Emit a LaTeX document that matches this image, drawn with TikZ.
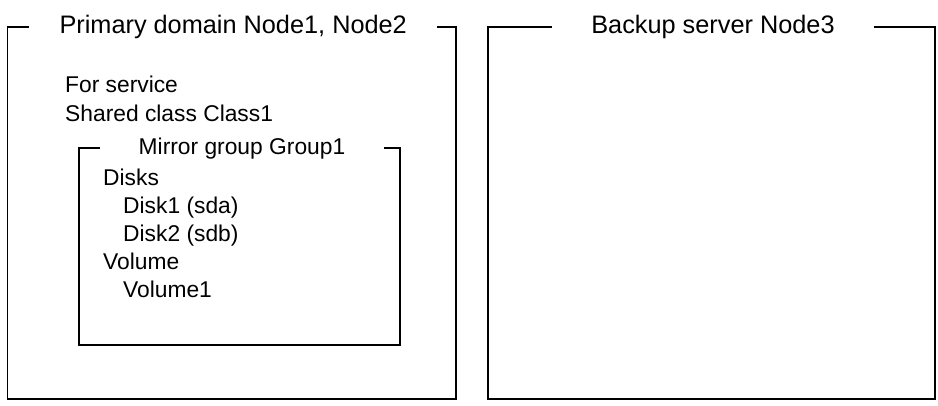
\documentclass[tikz,border=0pt]{standalone}
\usepackage{fontspec}
\setmainfont{Liberation Sans}

\tikzset{
  panel/.style={draw,line width=1.8pt,inner sep=0pt},
  paneltitle/.style={fill=white,inner ysep=0pt,inner xsep=0pt,
    font=\fontsize{25.3pt}{30pt}\selectfont},
  grouptitle/.style={paneltitle,font=\fontsize{22.8pt}{28pt}\selectfont},
  entry/.style={anchor=base west,inner sep=0pt,
    font=\fontsize{22.8pt}{28pt}\selectfont}
}

\begin{document}
\begin{tikzpicture}[x=1pt,y=-1pt]
  \useasboundingbox (0,0) rectangle (938,405);

  \node[panel,minimum width=448.5pt,minimum height=372.3pt] (primary) at (231.75,212.85) {};
  \node[panel,minimum width=446.7pt,minimum height=372.3pt] (backup) at (711.6,212.85) {};
  \node[panel,minimum width=320.7pt,minimum height=196.7pt] (mirror) at (239.65,246.65) {};

  \node[paneltitle,minimum width=407.7pt] (primarytitle) at (233.2,26.7)
    {Primary domain Node1, Node2};
  \node[paneltitle,minimum width=322pt] (backuptitle) at (713,26.7)
    {Backup server Node3};
  \node[grouptitle,minimum width=284.7pt] (mirrortitle) at (242,148.3)
    {Mirror group Group1};

  \node[entry] (service) at (65,92.3) {For service};
  \node[entry] (class) at (65,121) {Shared class Class1};
  \node[entry] (disks) at (103,185) {Disks};
  \node[entry] (disk1) at (123,213) {Disk1 (sda)};
  \node[entry] (disk2) at (123,241) {Disk2 (sdb)};
  \node[entry] (volume) at (103,269) {Volume};
  \node[entry] (volume1) at (123,297) {Volume1};
\end{tikzpicture}
\end{document}
